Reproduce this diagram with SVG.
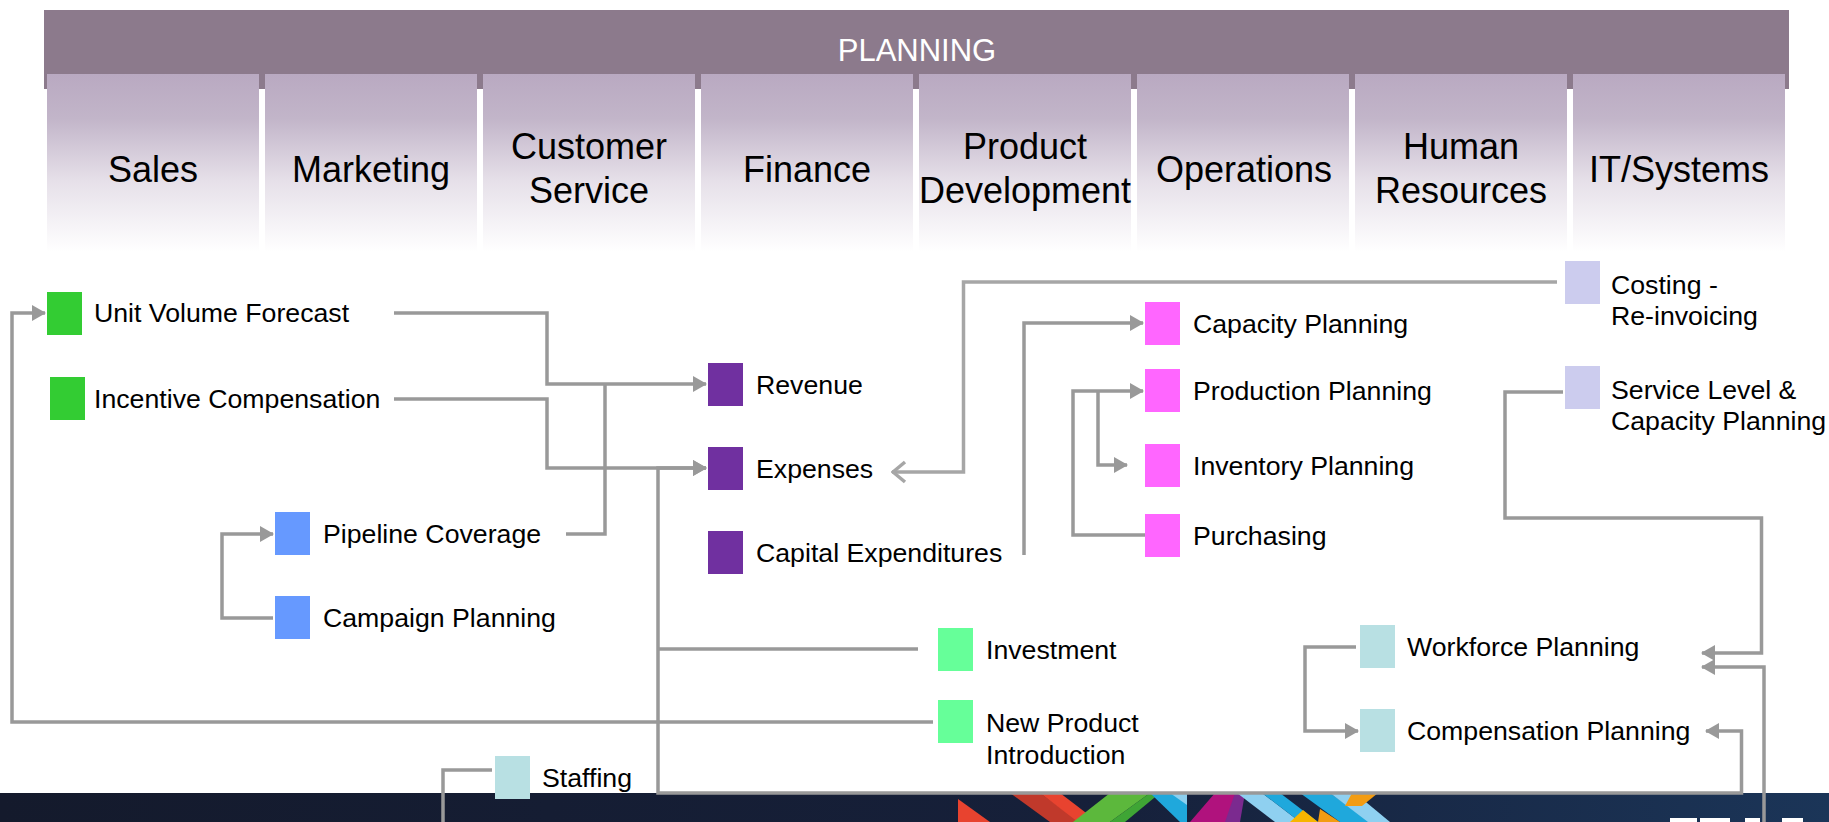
<svg xmlns="http://www.w3.org/2000/svg" width="1829" height="822" viewBox="0 0 1829 822">
<style>
.hdr{font-family:"Liberation Sans",Arial,sans-serif;font-size:36px;fill:#000;text-anchor:middle}
.lbl{font-family:"Liberation Sans",Arial,sans-serif;font-size:26.7px;fill:#000}
.con{fill:none;stroke:#999;stroke-width:3.5}
</style>
<defs>
<linearGradient id="colg" x1="0" y1="0" x2="0" y2="1">
<stop offset="0" stop-color="#b9a9c1"/>
<stop offset="0.25" stop-color="#c2b5c9"/>
<stop offset="0.6" stop-color="#e6e0e9"/>
<stop offset="1" stop-color="#ffffff"/>
</linearGradient>
<linearGradient id="navy" x1="0" y1="0" x2="1" y2="0">
<stop offset="0" stop-color="#141a2c"/>
<stop offset="0.6" stop-color="#16203a"/>
<stop offset="1" stop-color="#1b3558"/>
</linearGradient>
<marker id="ah" markerUnits="userSpaceOnUse" viewBox="0 0 14 16" refX="13" refY="8" markerWidth="14" markerHeight="16" orient="auto-start-reverse">
<path d="M0,0 L14,8 L0,16 z" fill="#999"/>
</marker>
<marker id="open" markerUnits="userSpaceOnUse" viewBox="0 0 16 24" refX="15" refY="12" markerWidth="16" markerHeight="24" orient="auto">
<path d="M2,2 L14,12 L2,22" fill="none" stroke="#a6a6a6" stroke-width="3.5"/>
</marker>
<clipPath id="bandclip"><rect x="0" y="793" width="1829" height="29"/></clipPath>
</defs>

<!-- bottom decorative band -->
<g id="footer">
<rect x="0" y="793" width="1829" height="29" fill="url(#navy)"/>
<g clip-path="url(#bandclip)">
<polygon points="958,799 990,822 958,822" fill="#e8432f"/>
<polygon points="1010,793 1040,793 1080,822 1050,822" fill="#c0392b"/>
<polygon points="1040,793 1060,793 1098,822 1078,822" fill="#e8432f"/>
<polygon points="1110,793 1150,793 1110,822 1073,822" fill="#5cb83c"/>
<polygon points="1150,793 1160,793 1125,822 1110,822" fill="#3fa535"/>
<polygon points="1150,793 1187,793 1187,822 1180,822" fill="#1fa8dc"/>
<polygon points="1170,793 1187,793 1187,805" fill="#8ccfee"/>
<polygon points="1215,793 1240,793 1240,822 1190,822" fill="#b0127d"/>
<polygon points="1235,793 1245,793 1240,822 1225,822" fill="#7b2a8f"/>
<polygon points="1237,793 1262,793 1300,822 1275,822" fill="#8fd0f0"/>
<polygon points="1262,793 1280,793 1318,822 1300,822" fill="#1fa8dc"/>
<polygon points="1303,810 1318,822 1290,822" fill="#f7b500"/>
<polygon points="1300,793 1330,793 1370,822 1340,822" fill="#1fa8dc"/>
<polygon points="1330,793 1355,793 1390,822 1368,822" fill="#8fd0f0"/>
<polygon points="1352,793 1378,793 1362,806 1345,806" fill="#f39c12"/>
<polygon points="1320,809 1340,822 1318,822" fill="#f39c12"/>
</g>
<rect x="1670" y="818" width="27" height="4" fill="#fff"/>
<rect x="1700" y="818" width="30" height="4" fill="#fff"/>
<rect x="1745" y="818" width="15" height="4" fill="#fff"/>
<rect x="1782" y="818" width="21" height="4" fill="#fff"/>
</g>

<!-- header -->
<g id="planning">
<rect x="44" y="10" width="1745" height="79" fill="#8c7a8c"/>
<text x="917" y="61" font-family="Liberation Sans, Arial, sans-serif" font-size="31" fill="#fff" text-anchor="middle">PLANNING</text>
</g>
<g id="col-sales"><rect x="47" y="74" width="212" height="178" fill="url(#colg)"/><text class="hdr" x="153" y="182">Sales</text></g>
<g id="col-marketing"><rect x="265" y="74" width="212" height="178" fill="url(#colg)"/><text class="hdr" x="371" y="182">Marketing</text></g>
<g id="col-customer"><rect x="483" y="74" width="212" height="178" fill="url(#colg)"/><text class="hdr" x="589" y="159">Customer</text><text class="hdr" x="589" y="203">Service</text></g>
<g id="col-finance"><rect x="701" y="74" width="212" height="178" fill="url(#colg)"/><text class="hdr" x="807" y="182">Finance</text></g>
<g id="col-product"><rect x="919" y="74" width="212" height="178" fill="url(#colg)"/><text class="hdr" x="1025" y="159">Product</text><text class="hdr" x="1025" y="203">Development</text></g>
<g id="col-operations"><rect x="1137" y="74" width="212" height="178" fill="url(#colg)"/><text class="hdr" x="1244" y="182">Operations</text></g>
<g id="col-hr"><rect x="1355" y="74" width="212" height="178" fill="url(#colg)"/><text class="hdr" x="1461" y="159">Human</text><text class="hdr" x="1461" y="203">Resources</text></g>
<g id="col-it"><rect x="1573" y="74" width="212" height="178" fill="url(#colg)"/><text class="hdr" x="1679" y="182">IT/Systems</text></g>

<!-- connectors -->
<g id="connectors">
<path class="con" d="M394,313 H547 V384 H706" marker-end="url(#ah)"/>
<path class="con" d="M394,399 H547 V468 H706" marker-end="url(#ah)"/>
<path class="con" d="M566,534 H605 V384"/>
<path class="con" d="M1706,731 H1741.5 V793 H658 V468 H706" marker-start="url(#ah)" marker-end="url(#ah)"/>
<path class="con" d="M918,649 H658"/>
<path class="con" d="M933,722 H12 V313 H45" marker-end="url(#ah)"/>
<path class="con" d="M492,770 H443 V822"/>
<path class="con" d="M1563,392 H1505 V518 H1761.5 V653 H1702" marker-end="url(#ah)"/>
<path class="con" d="M1764,822 V667 H1702" marker-end="url(#ah)"/>
<path class="con" d="M1356,647 H1305 V731 H1358" marker-end="url(#ah)"/>
<path class="con" d="M273,618 H222 V534 H273" marker-end="url(#ah)"/>
<path class="con" d="M1557,282 H963.5 V472 H892" marker-end="url(#open)" style="stroke:#a6a6a6"/>
<path class="con" d="M1024,555 V323 H1143" marker-end="url(#ah)"/>
<path class="con" d="M1145,535 H1073 V391 H1143" marker-end="url(#ah)"/>
<path class="con" d="M1098,391 V465 H1127" marker-end="url(#ah)"/>
</g>

<!-- nodes -->
<g id="n-uvf"><rect x="47" y="292" width="35" height="43" fill="#33cc33"/><text class="lbl" x="94" y="322">Unit Volume Forecast</text></g>
<g id="n-ic"><rect x="50" y="377" width="35" height="43" fill="#33cc33"/><text class="lbl" x="94" y="408">Incentive Compensation</text></g>
<g id="n-pc"><rect x="275" y="512" width="35" height="43" fill="#6699ff"/><text class="lbl" x="323" y="543">Pipeline Coverage</text></g>
<g id="n-cp"><rect x="275" y="596" width="35" height="43" fill="#6699ff"/><text class="lbl" x="323" y="627">Campaign Planning</text></g>
<g id="n-rev"><rect x="708" y="363" width="35" height="43" fill="#7030a0"/><text class="lbl" x="756" y="394">Revenue</text></g>
<g id="n-exp"><rect x="708" y="447" width="35" height="43" fill="#7030a0"/><text class="lbl" x="756" y="478">Expenses</text></g>
<g id="n-capex"><rect x="708" y="531" width="35" height="43" fill="#7030a0"/><text class="lbl" x="756" y="562">Capital Expenditures</text></g>
<g id="n-capacity"><rect x="1145" y="302" width="35" height="43" fill="#ff66ff"/><text class="lbl" x="1193" y="333">Capacity Planning</text></g>
<g id="n-production"><rect x="1145" y="369" width="35" height="43" fill="#ff66ff"/><text class="lbl" x="1193" y="400">Production Planning</text></g>
<g id="n-inventory"><rect x="1145" y="444" width="35" height="43" fill="#ff66ff"/><text class="lbl" x="1193" y="475">Inventory Planning</text></g>
<g id="n-purchasing"><rect x="1145" y="514" width="35" height="43" fill="#ff66ff"/><text class="lbl" x="1193" y="545">Purchasing</text></g>
<g id="n-costing"><rect x="1565" y="261" width="35" height="43" fill="#ccccee"/><text class="lbl" x="1611" y="294">Costing -</text><text class="lbl" x="1611" y="325">Re-invoicing</text></g>
<g id="n-service"><rect x="1565" y="366" width="35" height="43" fill="#ccccee"/><text class="lbl" x="1611" y="399">Service Level &amp;</text><text class="lbl" x="1611" y="430">Capacity Planning</text></g>
<g id="n-investment"><rect x="938" y="628" width="35" height="43" fill="#66ff99"/><text class="lbl" x="986" y="659">Investment</text></g>
<g id="n-npi"><rect x="938" y="700" width="35" height="43" fill="#66ff99"/><text class="lbl" x="986" y="732">New Product</text><text class="lbl" x="986" y="764">Introduction</text></g>
<g id="n-workforce"><rect x="1360" y="625" width="35" height="43" fill="#b8e0e3"/><text class="lbl" x="1407" y="656">Workforce Planning</text></g>
<g id="n-comp"><rect x="1360" y="709" width="35" height="43" fill="#b8e0e3"/><text class="lbl" x="1407" y="740">Compensation Planning</text></g>
<g id="n-staffing"><rect x="495" y="756" width="35" height="43" fill="#b8e0e3"/><text class="lbl" x="542" y="787">Staffing</text></g>
</svg>
